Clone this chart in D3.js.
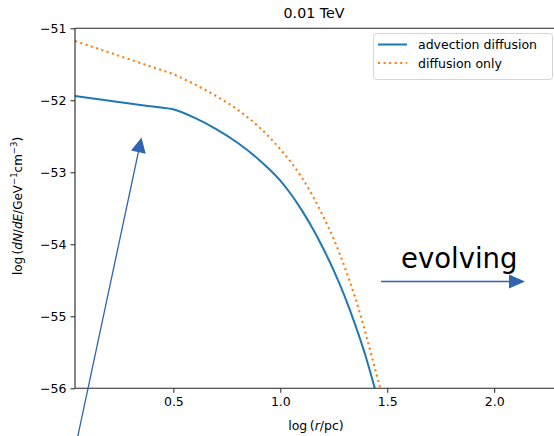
<!DOCTYPE html>
<html><head><meta charset="utf-8">
<script src="https://cdn.jsdelivr.net/npm/d3@7"></script>
<style>
body{margin:0;background:#fff;}
text{font-family:"DejaVu Sans",sans-serif;fill:#000;}
</style></head>
<body><svg id="c" width="554" height="436"></svg>
<script>
const title = "0.01 TeV";
const seriesNames = ["advection diffusion", "diffusion only"];
const advX = [0.040,0.45,0.494,0.60,0.70,0.80,0.90,1.00,1.05,1.10,1.15,1.20,1.25,1.30,1.35,1.40,1.44,1.47];
const advY = [-51.94,-52.104,-52.12,-52.245,-52.40,-52.59,-52.825,-53.115,-53.305,-53.525,-53.775,-54.055,-54.365,-54.715,-55.115,-55.565,-55.98,-56.3];
const difX = [0.040,0.45,0.485,0.60,0.70,0.80,0.90,1.00,1.05,1.10,1.15,1.20,1.25,1.30,1.35,1.40,1.45,1.47,1.49];
const difY = [-51.176,-51.586,-51.621,-51.78,-51.94,-52.13,-52.37,-52.68,-52.86,-53.07,-53.32,-53.61,-53.93,-54.31,-54.74,-55.25,-55.81,-56.03,-56.3];
const xTicks = [0.5,1.0,1.5,2.0];
const yTicks = [-51,-52,-53,-54,-55,-56];
const xDomain = [0.04, 2.275];
const yDomain = [-56, -51];

const svg = d3.select("#c");
const L=75, R=553, T=28.3, B=388.3;
const x = d3.scaleLinear().domain(xDomain).range([L, R]);
const y = d3.scaleLinear().domain(yDomain).range([B, T]);

svg.append("clipPath").attr("id","clip").append("rect").attr("x",L).attr("y",T).attr("width",R-L).attr("height",B-T);

const line = d3.line().x((d)=>x(d[0])).y((d)=>y(d[1])).curve(d3.curveMonotoneX);
const g = svg.append("g").attr("clip-path","url(#clip)");
g.append("path").datum(advX.map((v,i)=>[v,advY[i]])).attr("d",line)
 .attr("fill","none").attr("stroke","#1f77b4").attr("stroke-width",2);
g.append("path").datum(difX.map((v,i)=>[v,difY[i]])).attr("d",line)
 .attr("fill","none").attr("stroke","#ff7f0e").attr("stroke-width",2.1).attr("stroke-dasharray","2.1,3.45");

// axes
const xa = svg.append("g").attr("transform",`translate(0,${B})`)
  .call(d3.axisBottom(x).tickValues(xTicks).tickFormat(d3.format(".1f")).tickSize(4.5).tickPadding(4).tickSizeOuter(0));
const ya = svg.append("g").attr("transform",`translate(${L},0)`)
  .call(d3.axisLeft(y).tickValues(yTicks).tickFormat(d=>"\u2212"+Math.abs(d)).tickSize(4.5).tickPadding(4).tickSizeOuter(0));
[xa,ya].forEach(a=>{
  a.select(".domain").remove();
  a.selectAll(".tick line").attr("stroke","#222").attr("stroke-width",1);
  a.selectAll(".tick text").attr("font-size",12.5).attr("font-family","DejaVu Sans").attr("fill","#222");
});
// spines
svg.append("line").attr("x1",L).attr("x2",L).attr("y1",T).attr("y2",B).attr("stroke","#222").attr("stroke-width",1.1);
svg.append("line").attr("x1",L).attr("x2",R+2).attr("y1",B).attr("y2",B).attr("stroke","#222").attr("stroke-width",1.1);
svg.append("line").attr("x1",L).attr("x2",R+2).attr("y1",T).attr("y2",T).attr("stroke","#222").attr("stroke-width",1.1);

// title
svg.append("text").attr("x",314).attr("y",18).attr("text-anchor","middle").attr("font-size",14.2).text(title);

// x label
const xl = svg.append("text").attr("x",316).attr("y",430).attr("text-anchor","middle").attr("font-size",12.5);
xl.append("tspan").text("log\u2009(");
xl.append("tspan").attr("font-style","italic").text("r");
xl.append("tspan").text("/pc)");

// y label
const yl = svg.append("text").attr("transform","translate(22,206) rotate(-90)").attr("text-anchor","middle").attr("font-size",12);
yl.append("tspan").text("log\u2009(");
yl.append("tspan").attr("font-style","italic").text("dN");
yl.append("tspan").text("/");
yl.append("tspan").attr("font-style","italic").text("dE");
yl.append("tspan").text("/GeV");
yl.append("tspan").attr("font-size",8.5).attr("dy",-5).text("\u22121");
yl.append("tspan").attr("dy",5).text("cm");
yl.append("tspan").attr("font-size",8.5).attr("dy",-5).text("\u22123");
yl.append("tspan").attr("dy",5).text(")");

// legend
const lg = svg.append("g");
lg.append("rect").attr("x",373.5).attr("y",33.5).attr("width",179).attr("height",46).attr("rx",3)
  .attr("fill","#fff").attr("fill-opacity",0.8).attr("stroke","#d5d5d5").attr("stroke-width",1);
lg.append("line").attr("x1",378).attr("x2",407).attr("y1",44.5).attr("y2",44.5).attr("stroke","#1f77b4").attr("stroke-width",2);
lg.append("line").attr("x1",378).attr("x2",407).attr("y1",63).attr("y2",63).attr("stroke","#ff7f0e").attr("stroke-width",2.1).attr("stroke-dasharray","2.1,3.45");
lg.append("text").attr("x",418).attr("y",49).attr("font-size",12.5).text(seriesNames[0]);
lg.append("text").attr("x",418).attr("y",67.5).attr("font-size",12.5).text(seriesNames[1]);

// annotations
const ac = "#3064ae";
function arrow(x1,y1,x2,y2,hl,hw){
  const dx=x2-x1, dy=y2-y1, len=Math.hypot(dx,dy), ux=dx/len, uy=dy/len;
  const bx=x2-ux*hl, by=y2-uy*hl;
  svg.append("line").attr("x1",x1).attr("y1",y1).attr("x2",bx).attr("y2",by).attr("stroke",ac).attr("stroke-width",1.3);
  svg.append("path").attr("d",`M${x2},${y2}L${bx-uy*hw},${by+ux*hw}L${bx+uy*hw},${by-ux*hw}Z`).attr("fill",ac);
}
arrow(77,440,141.5,137.5,15,7.5);
arrow(381,281.5,525,281.5,16,7);
svg.append("text").attr("x",401).attr("y",268).attr("font-family","Liberation Sans, Arial, sans-serif").attr("font-size",27.5).text("evolving");
</script></body></html>
